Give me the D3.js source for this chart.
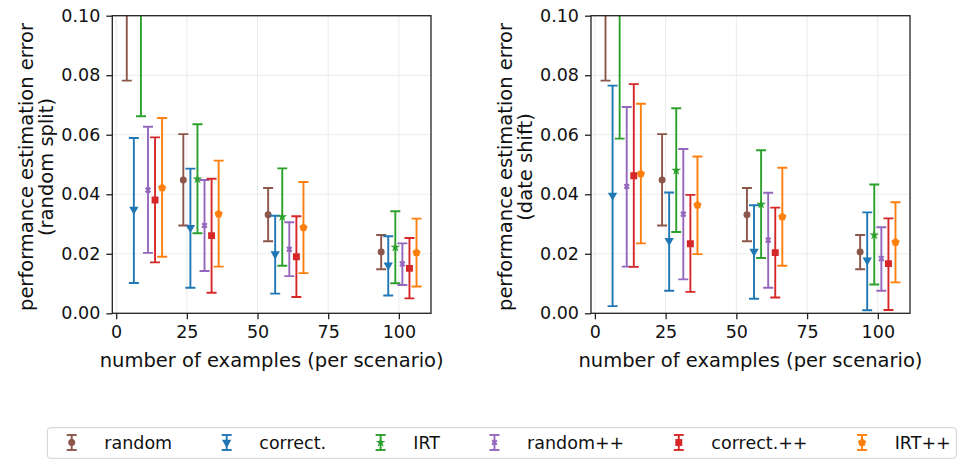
<!DOCTYPE html>
<html>
<head>
<meta charset="utf-8">
<script src="https://cdn.jsdelivr.net/npm/d3@7"></script>
<style>
  body { margin: 0; background: #fff; }
  text { font-family: "DejaVu Sans", sans-serif; fill: #111; }
</style>
</head>
<body>
<svg id="chart" width="958" height="460"></svg>
<script>
// number of examples per scenario (x groups)
const nExamples = [10, 30, 60, 100]
const methods = ["random", "correct.", "IRT", "random++", "correct.++", "IRT++"]
const colors = ["#8c564b", "#1f77b4", "#2ca02c", "#9467bd", "#d62728", "#ff7f0e"]
const markers = ["circle", "tridown", "star", "xcross", "square", "pentagon"]

const yTicks = [0, 0.02, 0.04, 0.06, 0.08, 0.10]
const xTicks = [0, 25, 50, 75, 100]

// random split: rows = methods, cols = nExamples
const splitMean = [
    [0.130, 0.0448, 0.0331, 0.0206],
    [0.0349, 0.0288, 0.0199, 0.0162],
    [0.120, 0.0451, 0.0324, 0.0222],
    [0.0414, 0.0295, 0.0215, 0.0166],
    [0.0381, 0.0261, 0.0190, 0.0151],
    [0.0422, 0.0334, 0.0288, 0.0204]
]
const splitLow = [
    [0.0782, 0.0295, 0.0242, 0.0148],
    [0.0102, 0.0086, 0.0066, 0.0060],
    [0.0662, 0.0269, 0.0160, 0.0101],
    [0.0203, 0.0142, 0.0125, 0.0095],
    [0.0171, 0.0069, 0.0055, 0.0050],
    [0.0190, 0.0157, 0.0135, 0.0090]
]
const splitHigh = [
    [0.180, 0.0602, 0.0421, 0.0263],
    [0.0589, 0.0486, 0.0328, 0.0259],
    [0.170, 0.0635, 0.0487, 0.0343],
    [0.0627, 0.0448, 0.0306, 0.0235],
    [0.0591, 0.0452, 0.0326, 0.0253],
    [0.0656, 0.0513, 0.0441, 0.0318]
]

// date shift
const shiftMean = [
    [0.130, 0.0448, 0.0331, 0.0206],
    [0.0396, 0.0244, 0.0208, 0.0178],
    [0.115, 0.0480, 0.0366, 0.0263],
    [0.0426, 0.0333, 0.0246, 0.0184],
    [0.0462, 0.0234, 0.0204, 0.0167],
    [0.0469, 0.0364, 0.0324, 0.0239]
]
const shiftLow = [
    [0.0782, 0.0295, 0.0242, 0.0148],
    [0.0024, 0.0076, 0.0049, 0.0010],
    [0.0587, 0.0273, 0.0186, 0.0097],
    [0.0157, 0.0114, 0.0086, 0.0076],
    [0.0156, 0.0072, 0.0053, 0.0011],
    [0.0235, 0.0199, 0.0160, 0.0104]
]
const shiftHigh = [
    [0.180, 0.0602, 0.0421, 0.0263],
    [0.0765, 0.0406, 0.0363, 0.0339],
    [0.170, 0.0689, 0.0548, 0.0433],
    [0.0693, 0.0552, 0.0405, 0.0289],
    [0.0770, 0.0398, 0.0355, 0.0319],
    [0.0704, 0.0527, 0.0489, 0.0373]
]

const svg = d3.select('#chart')
const plotTop = 15.7, plotBottom = 313.3
const dodge = 2.5   // x shift between methods inside a group
const tickFont = 17.5, labelFont = 19.5

function pentagon(r) {
    let p = d3.path()
    for (let k = 0; k < 5; k++) {
        const a = -Math.PI / 2 + k * 2 * Math.PI / 5
        const px = r * Math.cos(a), py = r * Math.sin(a)
        if (k == 0) p.moveTo(px, py); else p.lineTo(px, py)
    }
    p.closePath()
    return p.toString()
}

function markerPath(kind) {
    if (kind == "circle") return d3.symbol(d3.symbolCircle, 38)()
    if (kind == "tridown") return d3.symbol(d3.symbolTriangle, 38)()
    if (kind == "star") return d3.symbol(d3.symbolStar, 30)()
    if (kind == "xcross") return d3.symbol(d3.symbolCross, 24)()
    if (kind == "square") return d3.symbol(d3.symbolSquare, 48)()
    return pentagon(4.3)
}
function markerRot(kind) {
    if (kind == "tridown") return 180
    if (kind == "xcross") return 45
    return 0
}

function panel(id, left, right, label2, mean, low, high) {
    const x = d3.scaleLinear().domain([-1.375, 111.375]).range([left, right])
    const y = d3.scaleLinear().domain([0, 0.1]).range([plotBottom, plotTop])
    const g = svg.append('g')

    g.append('clipPath').attr('id', id)
        .append('rect')
        .attr('x', left).attr('y', plotTop)
        .attr('width', right - left).attr('height', plotBottom - plotTop)

    // grid
    g.append('g').selectAll('line')
        .data(xTicks)
        .join('line')
        .attr('x1', d => x(d)).attr('x2', d => x(d))
        .attr('y1', plotTop).attr('y2', plotBottom)
        .attr('stroke', '#ebebeb').attr('stroke-width', 1)
    g.append('g').selectAll('line')
        .data(yTicks)
        .join('line')
        .attr('x1', left).attr('x2', right)
        .attr('y1', d => y(d)).attr('y2', d => y(d))
        .attr('stroke', '#ebebeb').attr('stroke-width', 1)

    // error bars
    const rows = []
    methods.forEach(function(m, i) {
        nExamples.forEach(function(n, j) {
            rows.push({i: i, n: n, mean: mean[i][j], lo: low[i][j], hi: high[i][j]})
        })
    })
    const bars = g.append('g').attr('clip-path', 'url(#' + id + ')')
        .selectAll('g')
        .data(rows)
        .join('g')
        .attr('stroke', d => colors[d.i])
        .attr('fill', d => colors[d.i])
        .attr('stroke-width', 1.9)
    bars.append('line')
        .attr('x1', d => x(d.n + (d.i - 2.5) * dodge))
        .attr('x2', d => x(d.n + (d.i - 2.5) * dodge))
        .attr('y1', d => y(d.lo)).attr('y2', d => y(d.hi))
    bars.selectAll('.cap')
        .data(d => [{d: d, v: d.lo}, {d: d, v: d.hi}])
        .join('line')
        .attr('class', 'cap')
        .attr('x1', c => x(c.d.n + (c.d.i - 2.5) * dodge) - 5)
        .attr('x2', c => x(c.d.n + (c.d.i - 2.5) * dodge) + 5)
        .attr('y1', c => y(c.v)).attr('y2', c => y(c.v))
    bars.append('path')
        .attr('d', d => markerPath(markers[d.i]))
        .attr('stroke', 'none')
        .attr('transform', d => 'translate(' + x(d.n + (d.i - 2.5) * dodge) + ',' + y(d.mean) + ') rotate(' + markerRot(markers[d.i]) + ')')

    // axes
    const ax = g.append('g').attr('transform', 'translate(0,' + plotBottom + ')')
        .call(d3.axisBottom(x).tickValues(xTicks).tickSize(6).tickPadding(6))
    const ay = g.append('g').attr('transform', 'translate(' + left + ',0)')
        .call(d3.axisLeft(y).tickValues(yTicks).tickFormat(d3.format('.2f')).tickSize(6).tickPadding(6))
    ;[ax, ay].forEach(function(a) {
        a.select('.domain').remove()
        a.selectAll('text').attr('font-size', tickFont).attr('font-family', '"DejaVu Sans", sans-serif').attr('fill', '#111')
        a.selectAll('line').attr('stroke', '#222').attr('stroke-width', 1.3)
    })

    g.append('rect')
        .attr('x', left).attr('y', plotTop)
        .attr('width', right - left).attr('height', plotBottom - plotTop)
        .attr('fill', 'none').attr('stroke', '#222').attr('stroke-width', 1.3)

    g.append('text')
        .attr('x', (left + right) / 2).attr('y', 366.5)
        .attr('text-anchor', 'middle').attr('font-size', labelFont)
        .text('number of examples (per scenario)')

    const cy = 167
    g.append('text')
        .attr('transform', 'translate(' + (left - 79) + ',' + cy + ') rotate(-90)')
        .attr('text-anchor', 'middle').attr('font-size', labelFont)
        .text('performance estimation error')
    g.append('text')
        .attr('transform', 'translate(' + (left - 59) + ',' + cy + ') rotate(-90)')
        .attr('text-anchor', 'middle').attr('font-size', labelFont)
        .text(label2)
}

panel('clipA', 112.3, 431, '(random split)', splitMean, splitLow, splitHigh)
panel('clipB', 591, 910, '(date shift)', shiftMean, shiftLow, shiftHigh)

// legend
const legend = svg.append('g')
legend.append('rect')
    .attr('x', 47.3).attr('y', 427.7)
    .attr('width', 909).attr('height', 30.6)
    .attr('rx', 3)
    .attr('fill', '#fff').attr('stroke', '#d0d0d0').attr('stroke-width', 1)

let lx = 71.7
methods.forEach(function(m, i) {
    const item = legend.append('g')
        .attr('stroke', colors[i]).attr('fill', colors[i]).attr('stroke-width', 1.9)
    item.append('line').attr('x1', lx).attr('x2', lx).attr('y1', 435).attr('y2', 450)
    item.append('line').attr('x1', lx - 5).attr('x2', lx + 5).attr('y1', 435).attr('y2', 435)
    item.append('line').attr('x1', lx - 5).attr('x2', lx + 5).attr('y1', 450).attr('y2', 450)
    item.append('path')
        .attr('d', markerPath(markers[i]))
        .attr('stroke', 'none')
        .attr('transform', 'translate(' + lx + ',442.5) rotate(' + markerRot(markers[i]) + ')')
    const t = legend.append('text')
        .attr('x', lx + 32.6).attr('y', 449)
        .attr('font-size', tickFont)
        .text(m)
    lx = lx + 32.6 + t.node().getComputedTextLength() + 54.5
})
</script>
</body>
</html>
